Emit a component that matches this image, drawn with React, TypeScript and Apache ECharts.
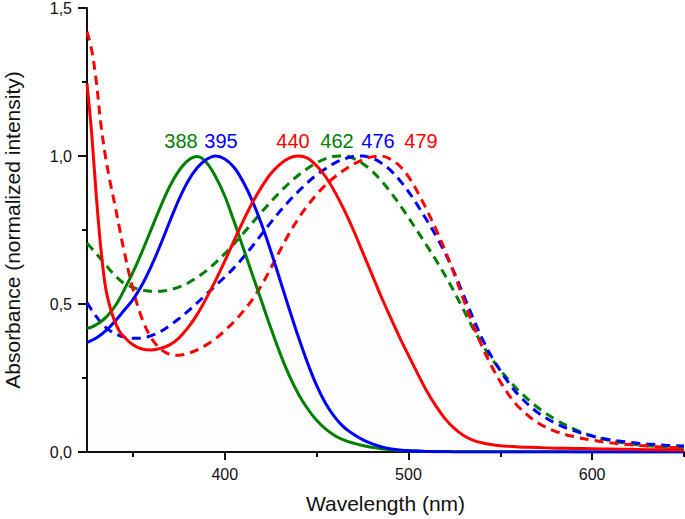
import React, { useEffect, useRef } from "react";
import * as echarts from "echarts";

const wavelengths = [
  325, 327.5, 330, 332.5, 335, 337.5, 340, 342.5, 345,
  350, 355, 360, 365, 370, 375, 380, 385, 390, 395, 400, 405, 410, 415, 420, 425,
  430, 435, 440, 445, 450, 455, 460, 465, 470, 475, 480, 485, 490, 495, 500, 505,
  510, 515, 520, 525, 530, 535, 540, 545, 550, 555, 560,
  570, 580, 590, 600, 610, 620, 630, 640, 650,
];

const greenSolid = [
  0.418, 0.422, 0.43, 0.44, 0.453, 0.47, 0.49, 0.515, 0.545,
  0.607, 0.677, 0.753, 0.828, 0.897, 0.95, 0.985, 0.998, 0.978, 0.93, 0.865, 0.78, 0.69, 0.6, 0.51, 0.42,
  0.335, 0.26, 0.197, 0.147, 0.107, 0.077, 0.055, 0.04, 0.03, 0.022, 0.016, 0.011, 0.008, 0.005, 0.004, 0.003,
  0.002, 0.002, 0.002, 0.001, 0.001, 0.001, 0.001, 0.001, 0.001, 0.001, 0.001,
  0.001, 0.001, 0, 0, 0, 0, 0, 0, 0,
];

const blueSolid = [
  0.37, 0.377, 0.385, 0.396, 0.408, 0.423, 0.44, 0.458, 0.477,
  0.515, 0.565, 0.628, 0.7, 0.778, 0.853, 0.915, 0.96, 0.988, 1.0, 0.99, 0.962, 0.913, 0.848, 0.77, 0.68,
  0.583, 0.485, 0.39, 0.302, 0.225, 0.163, 0.117, 0.083, 0.06, 0.042, 0.028, 0.018, 0.011, 0.007, 0.004, 0.003,
  0.002, 0.001, 0.001, 0, 0, 0, 0, 0, 0, 0, 0,
  0, 0, 0, 0, 0, 0, 0, 0, 0,
];

const redSolid = [
  1.245, 1.08, 0.87, 0.69, 0.56, 0.49, 0.443, 0.41, 0.39,
  0.362, 0.348, 0.345, 0.35, 0.362, 0.385, 0.42, 0.465, 0.52, 0.58, 0.645, 0.713, 0.78, 0.842, 0.895, 0.94,
  0.972, 0.993, 1.0, 0.993, 0.967, 0.929, 0.878, 0.818, 0.75, 0.676, 0.602, 0.527, 0.458, 0.39, 0.327, 0.265,
  0.205, 0.155, 0.112, 0.08, 0.056, 0.04, 0.031, 0.025, 0.021, 0.019, 0.017,
  0.015, 0.013, 0.012, 0.011, 0.01, 0.009, 0.008, 0.007, 0.006,
];

const greenDashed = [
  0.705, 0.688, 0.67, 0.652, 0.634, 0.615, 0.598, 0.583, 0.571,
  0.556, 0.547, 0.543, 0.543, 0.548, 0.557, 0.571, 0.59, 0.613, 0.64, 0.67, 0.703, 0.738, 0.774, 0.81, 0.845,
  0.878, 0.908, 0.935, 0.958, 0.977, 0.991, 0.999, 1.0, 0.992, 0.975, 0.95, 0.918, 0.88, 0.838, 0.792, 0.745,
  0.697, 0.648, 0.596, 0.54, 0.48, 0.42, 0.365, 0.318, 0.277, 0.24, 0.207,
  0.152, 0.11, 0.078, 0.054, 0.038, 0.028, 0.021, 0.016, 0.013,
];

const blueDashed = [
  0.505, 0.48, 0.458, 0.438, 0.422, 0.41, 0.4, 0.394, 0.389,
  0.384, 0.385, 0.393, 0.407, 0.427, 0.45, 0.476, 0.504, 0.533, 0.562, 0.591, 0.622, 0.657, 0.695, 0.735, 0.775,
  0.813, 0.848, 0.88, 0.91, 0.936, 0.958, 0.977, 0.99, 0.998, 1.0, 0.993, 0.977, 0.953, 0.92, 0.88, 0.833,
  0.783, 0.73, 0.672, 0.605, 0.53, 0.455, 0.385, 0.325, 0.275, 0.23, 0.192,
  0.135, 0.097, 0.072, 0.054, 0.041, 0.033, 0.027, 0.023, 0.02,
];

const redDashed = [
  1.42, 1.36, 1.255, 1.11, 1.0, 0.915, 0.84, 0.762, 0.685,
  0.55, 0.45, 0.385, 0.348, 0.33, 0.327, 0.333, 0.345, 0.362, 0.383, 0.41, 0.44, 0.475, 0.515, 0.563, 0.62,
  0.68, 0.737, 0.788, 0.832, 0.87, 0.903, 0.93, 0.953, 0.972, 0.987, 0.997, 1.0, 0.99, 0.968, 0.93, 0.878,
  0.818, 0.752, 0.68, 0.6, 0.515, 0.432, 0.358, 0.293, 0.237, 0.19, 0.152,
  0.1, 0.07, 0.052, 0.04, 0.031, 0.025, 0.02, 0.016, 0.014,
];

const xMajorTicks = [400, 500, 600];
const xMinorTicks = [350, 450, 550, 650];

const peakLabels = ["388", "395", "440", "462", "476", "479"];

const GREEN = "#008000";
const BLUE = "#0000ff";
const RED = "#ff0000";
const peakColors = [GREEN, BLUE, RED, GREEN, BLUE, RED];
const peakLabelX = [181, 221, 293, 337, 378, 421];

const FONT = "'Liberation Sans', Arial, sans-serif";

function pairs(ys: number[]) {
  return wavelengths.map((w, i) => [w, ys[i]]);
}

export default function App() {
  const ref = useRef<HTMLDivElement>(null);

  useEffect(() => {
    if (!ref.current) return;
    const chart = echarts.init(ref.current, null, { renderer: "svg" });

    const mk = (name: string, ys: number[], color: string, dashed: boolean, fill = false) => ({
      name,
      type: "line",
      data: pairs(ys),
      smooth: 0.35,
      showSymbol: false,
      symbol: "none",
      lineStyle: { color, width: 3, type: dashed ? [9, 6] : "solid", cap: "butt" },
      itemStyle: { color },
      areaStyle: fill ? { color: "rgba(0,0,0,0.014)" } : undefined,
      z: dashed ? 3 : 4,
    });

    chart.setOption({
      animation: false,
      backgroundColor: "#ffffff",
      textStyle: { fontFamily: FONT },
      grid: { left: 87, right: 1, top: 8, bottom: 67, containLabel: false, outerBoundsMode: "none" },
      xAxis: [
        {
          type: "value",
          min: 325,
          max: 650,
          position: "bottom",
          name: "Wavelength (nm)",
          nameLocation: "middle",
          nameGap: 41,
          nameTextStyle: { fontSize: 21, color: "#111", fontFamily: FONT },
          axisLine: { show: true, onZero: false, lineStyle: { color: "#111", width: 2 } },
          axisTick: { show: true, inside: false, length: 8, customValues: xMajorTicks, lineStyle: { color: "#111", width: 2 } },
          axisLabel: { show: true, customValues: xMajorTicks, margin: 14, fontSize: 16, color: "#111", fontFamily: FONT },
          splitLine: { show: false },
        },
        {
          type: "value",
          min: 325,
          max: 650,
          position: "bottom",
          offset: 0,
          axisLine: { show: false },
          axisTick: { show: true, inside: false, length: 5, customValues: xMinorTicks, lineStyle: { color: "#111", width: 2 } },
          axisLabel: { show: false },
          splitLine: { show: false },
        },
      ],
      yAxis: {
        type: "value",
        min: 0,
        max: 1.5,
        interval: 0.5,
        name: "Absorbance (normalized intensity)",
        nameLocation: "middle",
        nameGap: 64,
        nameTextStyle: { fontSize: 21, color: "#111", fontFamily: FONT },
        axisLine: { show: true, lineStyle: { color: "#111", width: 2 } },
        axisTick: { show: true, inside: false, length: 9, lineStyle: { color: "#111", width: 2 } },
        minorTick: { show: true, splitNumber: 2, length: 5, lineStyle: { color: "#111", width: 2 } },
        axisLabel: {
          margin: 15,
          fontSize: 16,
          color: "#111",
          fontFamily: FONT,
          formatter: (v: number) => v.toFixed(1).replace(".", ","),
        },
        splitLine: { show: false },
      },
      series: [
        mk("green dashed", greenDashed, GREEN, true),
        mk("blue dashed", blueDashed, BLUE, true),
        mk("red dashed", redDashed, RED, true),
        mk("green", greenSolid, GREEN, false),
        mk("blue", blueSolid, BLUE, false),
        mk("red", redSolid, RED, false, true),
      ],
      graphic: peakLabels.map((t, i) => ({
        type: "text",
        x: peakLabelX[i],
        y: 141,
        style: {
          text: t,
          fill: peakColors[i],
          fontSize: 20,
          fontFamily: FONT,
          align: "center",
          verticalAlign: "middle",
        },
        z: 10,
      })),
    });

    return () => chart.dispose();
  }, []);

  return (
    <div
      ref={ref}
      style={{ position: "fixed", left: 0, top: 0, width: 685, height: 519, background: "#fff" }}
    />
  );
}
